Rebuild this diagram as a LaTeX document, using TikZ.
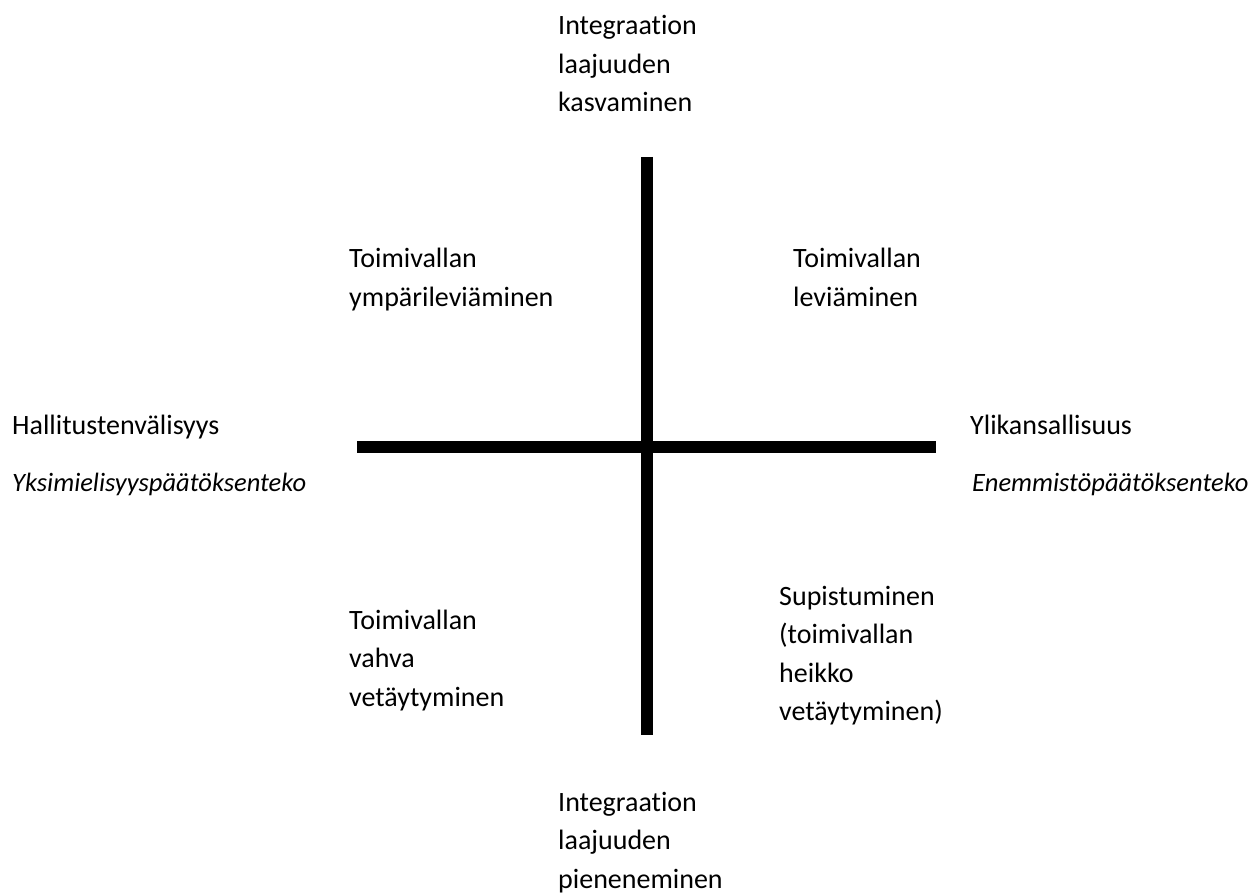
\documentclass[tikz,border=0pt]{standalone}
\usepackage{fontspec}
\setmainfont[Ligatures=NoCommon]{Carlito}
\begin{document}
\begin{tikzpicture}[x=1pt, y=-1pt,
    lbl/.style={anchor=base west, inner sep=0pt, align=left,
      font=\fontsize{28}{38.5}\selectfont},
    tapa/.style={lbl, font=\fontsize{26.5}{38.5}\selectfont\itshape}]
      \useasboundingbox (0, 0) rectangle (1253, 893);
      \draw [line width=12pt] (646.5, 157) -- (646.5, 735);
      \draw [line width=12pt] (357, 446.5) -- (936, 446.5);
      % multi-line nodes: base is the last line
      \node [lbl] (ylos) at (558, 112) {Integraation\\laajuuden\\kasvaminen};
      \node [lbl] (alas) at (558, 888) {Integraation\\laajuuden\\pieneneminen};
      \node [lbl] (hvali) at (12, 434) {Hallitustenvälisyys};
      \node [tapa] (yksim) at (12, 491) {Yksimielisyyspäätöksenteko};
      \node [lbl] (ylik) at (970, 434) {Ylikansallisuus};
      \node [tapa] (enemm) at (972, 491) {Enemmistöpäätöksenteko};
      \node [lbl] (ympari) at (349, 306.5) {Toimivallan\\ympärileviäminen};
      \node [lbl] (levia) at (793, 306.5) {Toimivallan\\leviäminen};
      \node [lbl] (vahva) at (349, 706) {Toimivallan\\vahva\\vetäytyminen};
      \node [lbl] (supist) at (779, 720.5) {Supistuminen\\(toimivallan\\heikko\\vetäytyminen)};
    \end{tikzpicture}
\end{document}
